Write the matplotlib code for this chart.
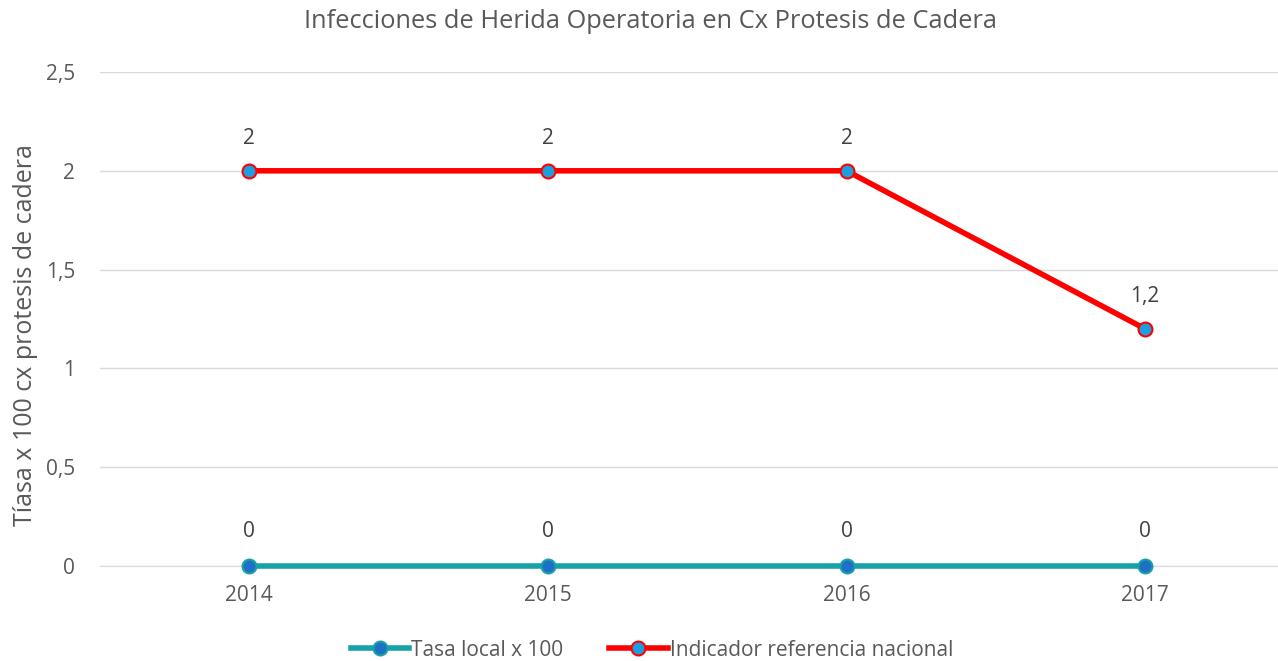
import matplotlib.pyplot as plt

plt.rcParams['font.family'] = ['Open Sans', 'DejaVu Sans']

years = ['2014', '2015', '2016', '2017']
tasa_local = [0, 0, 0, 0]
indicador = [2, 2, 2, 1.2]
y_ticks = [0, 0.5, 1, 1.5, 2, 2.5]
y_tick_labels = ['0', '0,5', '1', '1,5', '2', '2,5']

gray = '#595959'

fig = plt.figure(figsize=(12.78, 6.61), dpi=100)
ax = fig.add_axes([100 / 1278, 1 - 566 / 661, 1 - 100 / 1278, (566 - 72) / 661])

x = list(range(len(years)))
ax.plot(x, tasa_local, color='#17A2A8', lw=4, marker='o', ms=10, clip_on=False,
        mfc='#1E6FC7', mec='#17A2A8', mew=1.5, label='Tasa local x 100', zorder=3)
ax.plot(x, indicador, color='#FF0000', lw=4, marker='o', ms=10, clip_on=False,
        mfc='#1A9FE0', mec='#FF0000', mew=1.5, label='Indicador referencia nacional', zorder=4)

# etiquetas de datos
for xi, v in zip(x, tasa_local):
    ax.annotate(('%g' % v).replace('.', ','), (xi, v), xytext=(0, 24.5), textcoords='offset points',
                ha='center', va='center', fontsize=15, color='#404040')
for xi, v in zip(x, indicador):
    ax.annotate(('%g' % v).replace('.', ','), (xi, v), xytext=(0, 23), textcoords='offset points',
                ha='center', va='center', fontsize=15, color='#404040')

ax.set_xlim(-0.5, (1278 - 249) / 298.7)
ax.set_ylim(0, 2.5)
ax.set_xticks(x)
ax.set_xticklabels(years)
ax.set_yticks(y_ticks)
ax.set_yticklabels(y_tick_labels)
ax.grid(axis='y', color='#D9D9D9', lw=1)
ax.set_axisbelow(True)
for s in ['top', 'right', 'left']:
    ax.spines[s].set_visible(False)
ax.spines['bottom'].set_color('#D9D9D9')
ax.tick_params(axis='both', length=0, labelsize=15, colors=gray)
ax.tick_params(axis='x', pad=14)
ax.tick_params(axis='y', pad=18)

ax.set_ylabel('Tíasa x 100 cx protesis de cadera', fontsize=18, color=gray)
ax.yaxis.set_label_coords(-0.053, 0.468)
fig.text(650 / 1278, 1 - 22 / 661, 'Infecciones de Herida Operatoria en Cx Protesis de Cadera',
         ha='center', va='center', fontsize=18.3, color=gray)

fig.legend(loc='center', bbox_to_anchor=(652 / 1278, 1 - 650 / 661), ncol=2, frameon=False,
           fontsize=15, labelcolor=gray, handlelength=2.8, handletextpad=0.1, columnspacing=2.2)

fig.savefig('out.png', dpi=100)
